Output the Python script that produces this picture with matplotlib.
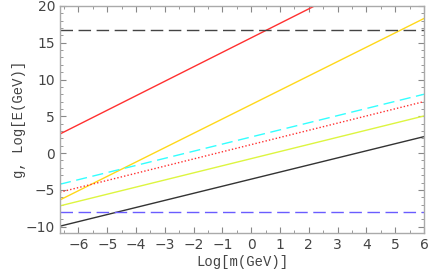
import numpy as np
import matplotlib.pyplot as plt

# endpoints of each line (log m, value)
xLeft, xRight = -6.64, 6.0
redSolid = [2.6, 20.0]          # reaches top at x=2.2
redSolidX = [-6.64, 2.2]
goldSolid = [-6.36, 18.3]
cyanDashed = [-4.23, 8.0]
redDotted = [-5.31, 7.0]
greenSolid = [-7.17, 5.05]
blackSolid = [-9.93, 2.24]
blueLevel = -8.0
blackLevel = 16.7

xs = [xLeft, xRight]

fig = plt.figure(figsize=(4.36, 2.70), dpi=100)
ax = fig.add_axes([0.1376, 0.137, 0.835, 0.841])

ax.plot(redSolidX, redSolid, c='#ff3030', lw=1.0)
ax.plot(xs, goldSolid, c='#ffd81a', lw=1.0)
ax.plot(xs, cyanDashed, c='#33ffff', lw=1.0, ls=(0, (8, 4)))
ax.plot(xs, redDotted, c='#ff3030', lw=1.0, ls=(0, (1, 1.5)))
ax.plot(xs, greenSolid, c='#ddf540', lw=1.0)
ax.plot(xs, blackSolid, c='#333333', lw=1.0)
ax.axhline(blueLevel, c='#6a5cff', lw=1.0, ls=(0, (9, 4)))
ax.axhline(blackLevel, c='#444444', lw=1.0, ls=(0, (9, 4)))

ax.set_xlim(xLeft, xRight)
ax.set_ylim(-10.86, 20)
ax.set_xticks(np.arange(-6, 7, 1))
ax.set_xticks(np.arange(-6.5, 6.01, 0.5), minor=True)
ax.set_yticks([-10, -5, 0, 5, 10, 15, 20])
ax.set_yticks(np.arange(-10, 21, 1), minor=True)
ax.set_xticklabels([str(v).replace('-', '\u2212') for v in range(-6, 7)])
ax.set_yticklabels([str(v).replace('-', '\u2212') for v in [-10, -5, 0, 5, 10, 15, 20]])

for s in ax.spines.values():
    s.set_color('#aaaaaa')
    s.set_linewidth(1.0)
ax.tick_params(which='both', direction='in', top=True, right=True, colors='#888888',
               labelcolor='#444444', labelsize=10)
ax.tick_params(which='major', length=4)
ax.tick_params(which='minor', length=2)
for lab in ax.get_xticklabels() + ax.get_yticklabels():
    lab.set_family('DejaVu Sans')

ax.set_xlabel('Log[m(GeV)]', family='Liberation Mono', fontsize=10, color='#444444', labelpad=2)
ax.set_ylabel('g, Log[E(GeV)]', family='Liberation Mono', fontsize=10, color='#444444', labelpad=0)

fig.savefig('out.png', dpi=100)
